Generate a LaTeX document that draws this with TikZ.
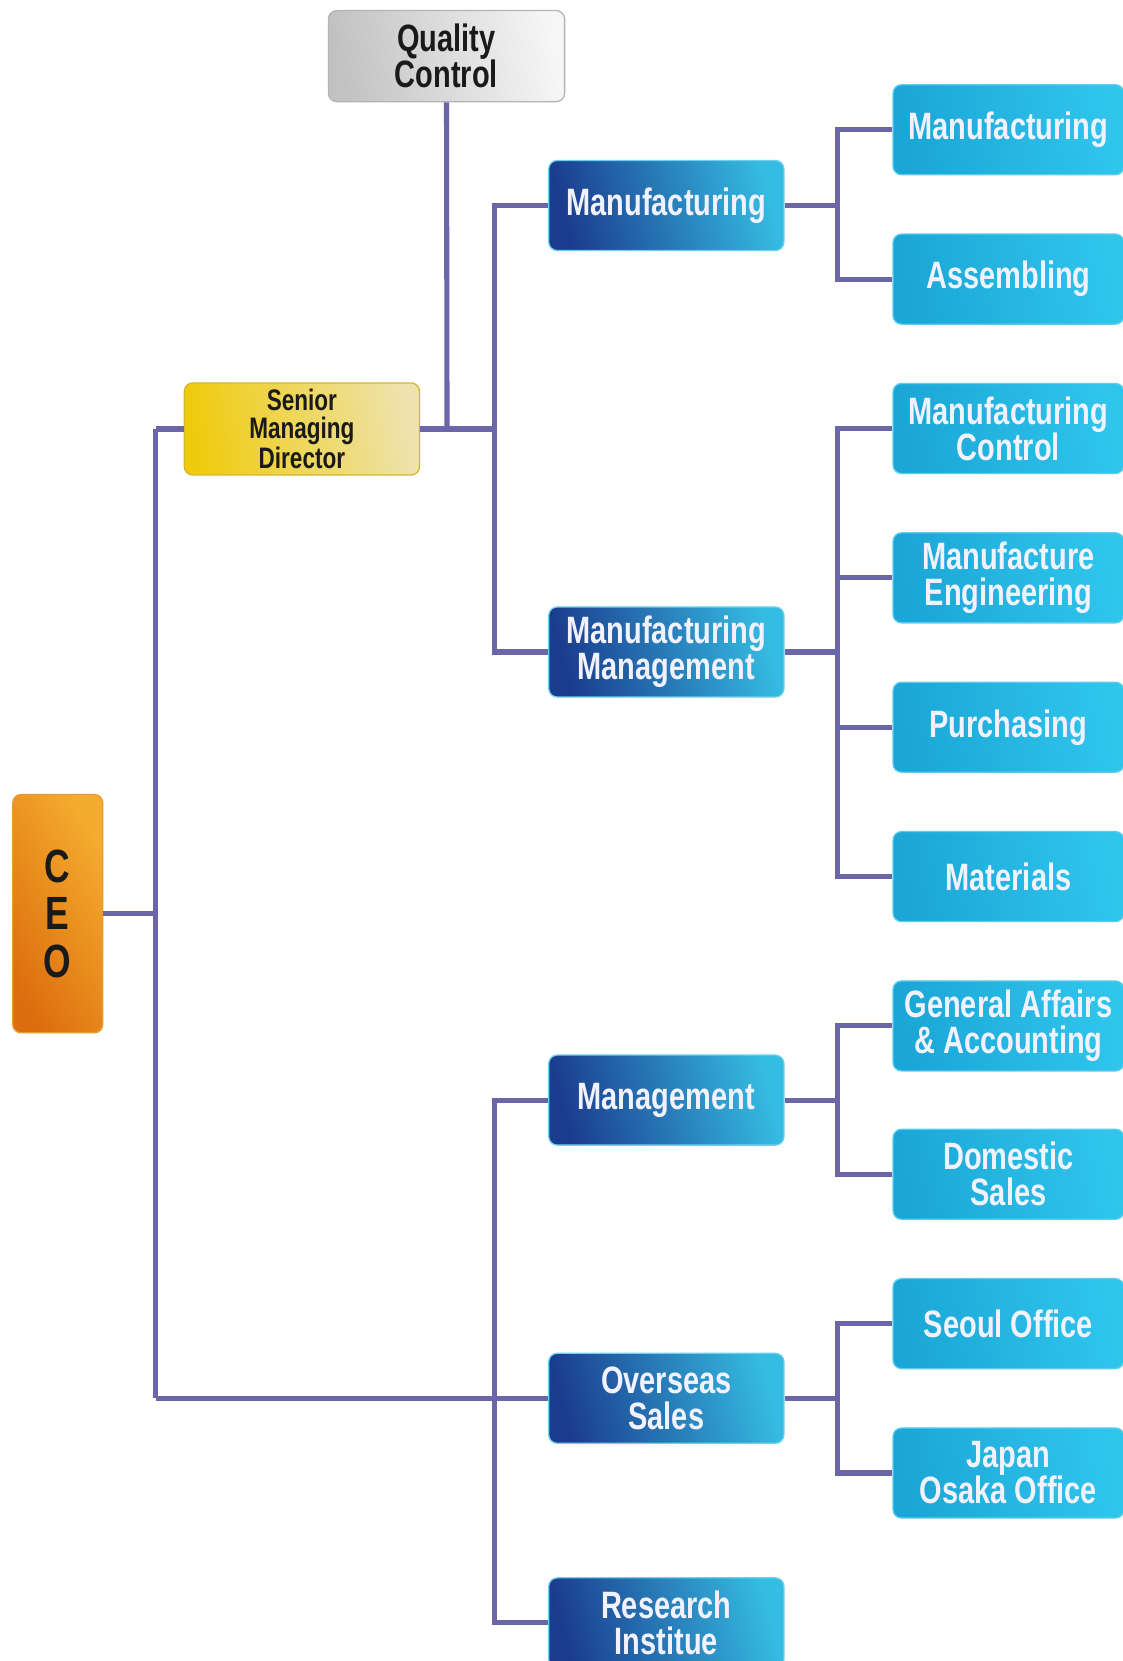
\documentclass[tikz,border=0pt]{standalone}
\usepackage{fontspec}
\newfontfamily\cond{Liberation Sans}[FakeStretch=0.76]
\definecolor{linec}{HTML}{6A66A8}
\definecolor{ltwoA}{HTML}{1B3C8E}
\definecolor{ltwoB}{HTML}{35BCE2}
\definecolor{ltwoE}{HTML}{6FD0EE}
\definecolor{lthrA}{HTML}{1AA6D6}
\definecolor{lthrB}{HTML}{30C6EC}
\definecolor{lthrE}{HTML}{5CCDEE}
\definecolor{qcA}{HTML}{C2C2C2}
\definecolor{qcB}{HTML}{F6F6F6}
\definecolor{qcE}{HTML}{B4B4B4}
\definecolor{smdA}{HTML}{EFCB0E}
\definecolor{smdB}{HTML}{EEE3AE}
\definecolor{smdE}{HTML}{D6B534}
\definecolor{ceoA}{HTML}{DD6E0E}
\definecolor{ceoB}{HTML}{F4AC2E}
\definecolor{ceoE}{HTML}{E89A30}
\definecolor{wtext}{HTML}{F2F2FF}
\definecolor{dtext}{HTML}{1A1A1A}
\begin{document}
\begin{tikzpicture}[x=0.5pt,y=-0.5pt,
  conn/.style={draw=linec, line width=2.4pt},
  box/.style={rounded corners=4pt, inner sep=0pt, align=center, line width=0.6pt,
    font=\cond\bfseries\fontsize{18}{17}\selectfont},
  ltwo/.style={box, minimum width=111pt, minimum height=42.5pt,
    left color=ltwoA, right color=ltwoB, shading angle=105, draw=ltwoE, text=wtext},
  lthree/.style={box, minimum width=109pt, minimum height=42.5pt,
    left color=lthrA, right color=lthrB, shading angle=100, draw=lthrE, text=wtext},
  qcbox/.style={box, minimum width=111.5pt, minimum height=43pt,
    left color=qcA, right color=qcB, shading angle=100, draw=qcE, text=dtext},
  smdbox/.style={box, minimum width=111pt, minimum height=43.5pt,
    left color=smdA, right color=smdB, shading angle=100, draw=smdE, text=dtext,
    font=\cond\bfseries\fontsize{14}{13}\selectfont},
  ceobox/.style={box, minimum width=42.5pt, minimum height=112.5pt,
    left color=ceoA, right color=ceoB, shading angle=120, draw=ceoE, text=dtext,
    font=\cond\bfseries\fontsize{22}{22.5}\selectfont}
]
\useasboundingbox (0,0) rectangle (1060,1568);
\clip (0,0) rectangle (1060,1568);
\fill[white] (0,0) rectangle (1060,1568);

% nodes
\node[qcbox] (qc) at (421.5,53) {Quality\\Control};
\node[smdbox] (smd) at (285,405) {Senior\\Managing\\Director};
\node[ceobox] (ceo) at (54.5,862.5) {C\\E\\O};

\node[ltwo] (mfg) at (629,194) {Manufacturing};
\node[ltwo] (mm) at (629,615.5) {Manufacturing\\Management};
\node[ltwo] (mgmt) at (629,1038.5) {Management};
\node[ltwo] (os) at (629,1320) {Overseas\\Sales};
\node[ltwo] (ri) at (629,1532) {Research\\Institue};

\node[lthree] (a1) at (952,122.5) {Manufacturing};
\node[lthree] (a2) at (952,263.5) {Assembling};
\node[lthree] (b1) at (952,404.5) {Manufacturing\\Control};
\node[lthree] (b2) at (952,545.5) {Manufacture\\Engineering};
\node[lthree] (b3) at (952,686.5) {Purchasing};
\node[lthree] (b4) at (952,827.5) {Materials};
\node[lthree] (c1) at (952,968.5) {General Affairs\\\& Accounting};
\node[lthree] (c2) at (952,1108.5) {Domestic\\Sales};
\node[lthree] (d1) at (952,1249.5) {Seoul Office};
\node[lthree] (d2) at (952,1390.5) {Japan\\Osaka Office};

% junction coordinates
\coordinate (cs1) at (147,405);
\coordinate (cs2) at (147,1320);
\coordinate (qj) at (422,405);
\coordinate (u1) at (467,194);
\coordinate (u2) at (467,615.5);
\coordinate (uj) at (467,405);
\coordinate (w1) at (467,1038.5);
\coordinate (w3) at (467,1532);
\coordinate (ma) at (791,194);
\coordinate (mb) at (791,615.5);
\coordinate (mc) at (791,1038.5);
\coordinate (md) at (791,1320);

% connectors
\draw[conn] (ceo.east) -- (ceo.east -| cs1);
\draw[conn] (cs1) -- (cs2);
\draw[conn] (cs1) -- (smd.west);
\draw[conn] (cs2) -- (os.west);
\draw[conn] (smd.east) -- (uj);
\draw[conn] (qc.south) -- (qj);
\draw[conn] (mfg.west) -- (u1) -- (u2) -- (mm.west);
\draw[conn] (mgmt.west) -- (w1) -- (w3) -- (ri.west);
\draw[conn] (mfg.east) -- (ma);
\draw[conn] (a1.west) -| (ma) |- (a2.west);
\draw[conn] (mm.east) -- (mb);
\draw[conn] (b1.west) -| (mb) |- (b4.west);
\draw[conn] (b2.west) -- (b2.west -| mb);
\draw[conn] (b3.west) -- (b3.west -| mb);
\draw[conn] (mgmt.east) -- (mc);
\draw[conn] (c1.west) -| (mc) |- (c2.west);
\draw[conn] (os.east) -- (md);
\draw[conn] (d1.west) -| (md) |- (d2.west);
\end{tikzpicture}
\end{document}
